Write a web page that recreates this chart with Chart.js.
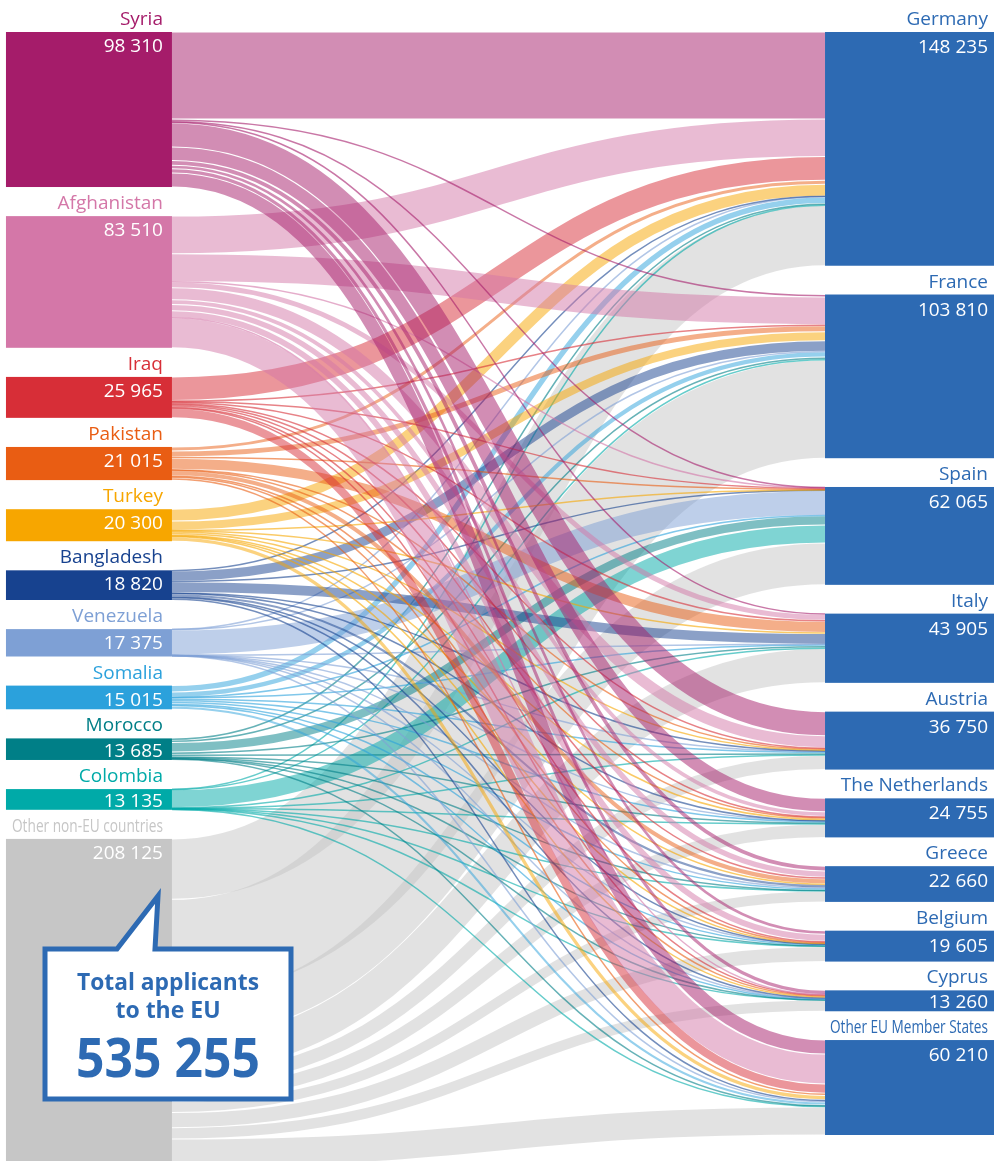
<!DOCTYPE html>
<html>
<head>
<meta charset="utf-8">
<script src="https://cdn.jsdelivr.net/npm/chart.js@4.4.1/dist/chart.umd.min.js"></script>
<style>
  html, body { margin: 0; padding: 0; background: #fff; }
  #wrap { width: 994px; height: 1161px; position: relative; }
</style>
</head>
<body>
<div id="wrap"><canvas id="sankey"></canvas></div>
<script>
// Countries of origin (left column)
const origins = ["Syria", "Afghanistan", "Iraq", "Pakistan", "Turkey", "Bangladesh",
  "Venezuela", "Somalia", "Morocco", "Colombia", "Other non-EU countries"];
const originTotals = [98310, 83510, 25965, 21015, 20300, 18820, 17375, 15015, 13685, 13135, 208125];
const originColors = ["#a51c6a", "#d477a8", "#d72e37", "#e95d13", "#f7a600", "#17428f",
  "#7ea0d5", "#2ba1dc", "#007f87", "#00aaa8", "#c6c6c6"];

// Receiving countries (right column)
const destinations = ["Germany", "France", "Spain", "Italy", "Austria", "The Netherlands",
  "Greece", "Belgium", "Cyprus", "Other EU Member States"];
const destinationTotals = [148235, 103810, 62065, 43905, 36750, 24755, 22660, 19605, 13260, 60210];

// Applicants from each origin, in the order of `destinations`
const fromSyria = [55200, 1500, 500, 500, 15300, 8500, 3000, 2300, 2600, 8910];
const fromAfghanistan = [23800, 17600, 300, 3700, 7600, 3000, 4000, 4400, 200, 18910];
const fromIraq = [15000, 700, 200, 700, 700, 700, 1000, 800, 300, 5865];
const fromPakistan = [2500, 3800, 800, 7000, 600, 400, 3200, 400, 900, 1415];
const fromTurkey = [7500, 5800, 200, 700, 500, 1500, 500, 600, 300, 2700];
const fromBangladesh = [400, 6600, 300, 6800, 500, 200, 2000, 100, 1000, 920];
const fromVenezuela = [300, 300, 15755, 200, 100, 100, 10, 100, 10, 500];
const fromSomalia = [4000, 3300, 115, 700, 1000, 900, 1500, 800, 700, 2000];
const fromMorocco = [1000, 1635, 6000, 1500, 1200, 800, 400, 300, 50, 800];
const fromColombia = [200, 300, 11325, 300, 100, 200, 100, 200, 10, 400];
const fromOther = [38335, 62275, 26570, 21805, 9150, 8455, 6950, 9605, 7190, 17790];

const flows = [fromSyria, fromAfghanistan, fromIraq, fromPakistan, fromTurkey, fromBangladesh,
  fromVenezuela, fromSomalia, fromMorocco, fromColombia, fromOther];

const totalApplicants = 535255;

// layout (gaps are in applicants so they scale with the y axis)
const GAP_LEFT = 18460;
const GAP_RIGHT = 18250;
const Y_MAX = 716000;
const LEFT_COL = [0.006, 0.173];
const RIGHT_COL = [0.830, 1.0];
const DEST_COLOR = "#2d6ab3";
const FONT = '"Open Sans", "Noto Sans", sans-serif';

function fmt(n) {
  return String(n).replace(/\B(?=(\d{3})+(?!\d))/g, " ");
}

function hexToRgba(hex, a) {
  const v = parseInt(hex.slice(1), 16);
  return `rgba(${(v >> 16) & 255}, ${(v >> 8) & 255}, ${v & 255}, ${a})`;
}

function stackStarts(totals, gap) {
  const starts = [];
  let acc = 0;
  totals.forEach((t) => {
    starts.push(acc);
    acc += t + gap;
  });
  return starts;
}

const sankeyPlugin = {
  id: "sankey",
  beforeDatasetsDraw(chart) {
    const ctx = chart.ctx;
    const xs = chart.scales.x;
    const ys = chart.scales.y;

    const leftStart = stackStarts(originTotals, GAP_LEFT);
    const rightStart = stackStarts(destinationTotals, GAP_RIGHT);

    const xL0 = xs.getPixelForValue(LEFT_COL[0]);
    const xL1 = xs.getPixelForValue(LEFT_COL[1]);
    const xR0 = xs.getPixelForValue(RIGHT_COL[0]);
    const xR1 = xs.getPixelForValue(RIGHT_COL[1]);
    const xm = (xL1 + xR0) / 2;

    // links: leave each origin in destination order, arrive in origin order
    const outOff = leftStart.slice();
    const inOff = rightStart.slice();
    const links = [];
    flows.forEach((row, i) => {
      row.forEach((v, j) => {
        links.push({ i, j, a: outOff[i], b: inOff[j], v });
        outOff[i] += v;
        inOff[j] += v;
      });
    });

    // grey "other" links underneath, Syria on top; drawn as stroked curves
    const order = links.slice().sort((p, q) => q.i - p.i);
    ctx.save();
    ctx.lineCap = "butt";
    order.forEach((l) => {
      const y0 = ys.getPixelForValue(l.a + l.v / 2);
      const y1 = ys.getPixelForValue(l.b + l.v / 2);
      const w = Math.abs(ys.getPixelForValue(l.v) - ys.getPixelForValue(0));
      ctx.beginPath();
      ctx.moveTo(xL1, y0);
      ctx.bezierCurveTo(xm, y0, xm, y1, xR0, y1);
      ctx.lineWidth = Math.max(w - 1, 1.5);
      ctx.strokeStyle = hexToRgba(originColors[l.i], w < 3 ? 0.6 : 0.5);
      ctx.stroke();
    });

    // nodes
    originTotals.forEach((t, i) => {
      const top = ys.getPixelForValue(leftStart[i]);
      const bot = ys.getPixelForValue(leftStart[i] + t);
      ctx.fillStyle = originColors[i];
      ctx.fillRect(xL0, top, xL1 - xL0, bot - top);
    });
    destinationTotals.forEach((t, j) => {
      const top = ys.getPixelForValue(rightStart[j]);
      const bot = ys.getPixelForValue(rightStart[j] + t);
      ctx.fillStyle = DEST_COLOR;
      ctx.fillRect(xR0, top, xR1 - xR0, bot - top);
    });

    // labels
    ctx.textAlign = "right";
    ctx.textBaseline = "alphabetic";
    const leftTextX = xL1 - 9;
    const rightTextX = xR1 - 6;
    origins.forEach((name, i) => {
      const top = ys.getPixelForValue(leftStart[i]);
      const bot = ys.getPixelForValue(leftStart[i] + originTotals[i]);
      const isOther = i === origins.length - 1;
      ctx.fillStyle = originColors[i];
      if (isOther) {
        ctx.font = `18px ${FONT}`;
        ctx.fillText(name, leftTextX, top - 7, 151);
      } else {
        ctx.font = `19px ${FONT}`;
        ctx.fillText(name, leftTextX, top - 7);
      }
      ctx.font = `19px ${FONT}`;
      ctx.fillStyle = "#fff";
      ctx.fillText(fmt(originTotals[i]), leftTextX, Math.min(top + 20, bot - 3));
    });
    destinations.forEach((name, j) => {
      const top = ys.getPixelForValue(rightStart[j]);
      const bot = ys.getPixelForValue(rightStart[j] + destinationTotals[j]);
      const isOther = j === destinations.length - 1;
      ctx.fillStyle = DEST_COLOR;
      if (isOther) {
        ctx.font = `18px ${FONT}`;
        ctx.fillText(name, rightTextX, top - 7, 158);
      } else {
        ctx.font = `19px ${FONT}`;
        ctx.fillText(name, rightTextX, top - 7);
      }
      ctx.font = `19px ${FONT}`;
      ctx.fillStyle = "#fff";
      ctx.fillText(fmt(destinationTotals[j]), rightTextX, Math.min(top + 21, bot - 3));
    });
    ctx.restore();
  },
  afterDraw(chart) {
    // speech bubble with the EU total
    const ctx = chart.ctx;
    const l = 45, r = 291, t = 949, b = 1099;
    ctx.save();
    ctx.beginPath();
    ctx.moveTo(l, t);
    ctx.lineTo(117, t);
    ctx.lineTo(158, 896);
    ctx.lineTo(155, t);
    ctx.lineTo(r, t);
    ctx.lineTo(r, b);
    ctx.lineTo(l, b);
    ctx.closePath();
    ctx.fillStyle = "#fff";
    ctx.fill();
    ctx.lineWidth = 5;
    ctx.lineJoin = "miter";
    ctx.strokeStyle = DEST_COLOR;
    ctx.stroke();

    ctx.fillStyle = DEST_COLOR;
    ctx.textAlign = "center";
    ctx.font = `bold 23px ${FONT}`;
    const cx = (l + r) / 2;
    ctx.fillText("Total applicants", cx, 990, 182);
    ctx.fillText("to the EU", cx, 1018, 182);
    ctx.font = `bold 54px ${FONT}`;
    ctx.fillText(fmt(totalApplicants), cx, 1077, 184);
    ctx.restore();
  },
};

new Chart(document.getElementById("sankey"), {
  type: "scatter",
  data: { datasets: [] },
  options: {
    responsive: true,
    maintainAspectRatio: false,
    animation: false,
    layout: { padding: { top: 32, left: 0, right: 0, bottom: 0 } },
    scales: {
      x: { type: "linear", min: 0, max: 1, display: false },
      y: { type: "linear", min: 0, max: Y_MAX, reverse: true, display: false },
    },
    plugins: {
      legend: { display: false },
      tooltip: { enabled: false },
    },
  },
  plugins: [sankeyPlugin],
});
</script>
</body>
</html>
